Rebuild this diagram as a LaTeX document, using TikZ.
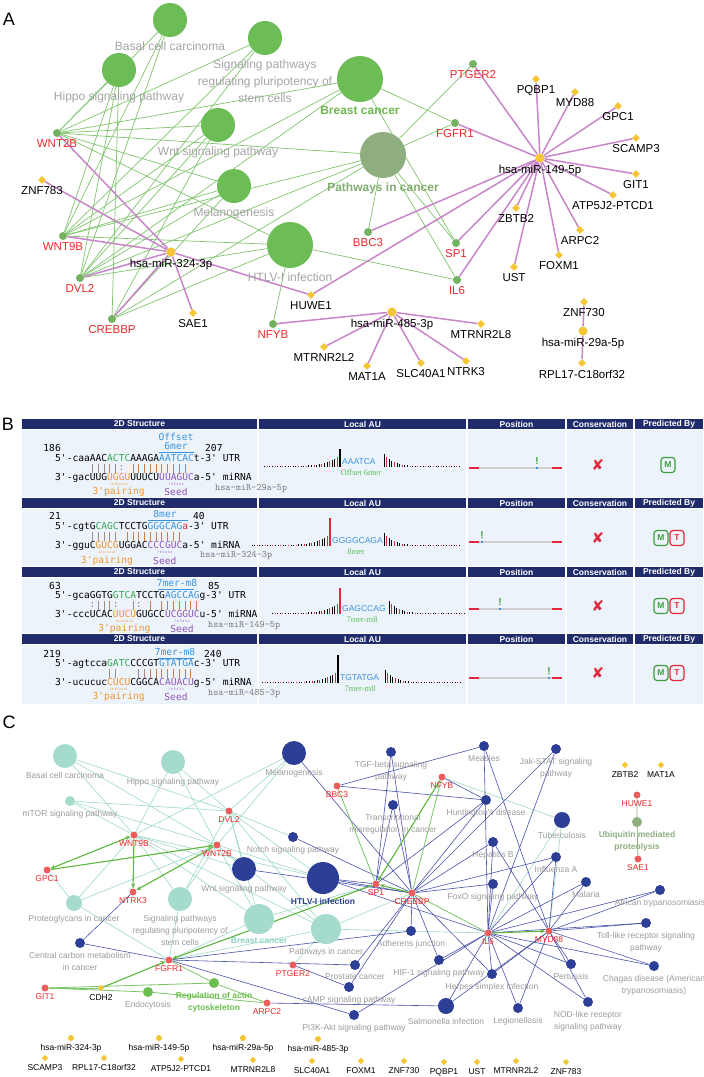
\documentclass[tikz,border=0pt]{standalone}
\usepackage{fontspec}
\setmainfont{Liberation Sans}
\newfontfamily\seqfont{DejaVu Sans Mono}
\newfontfamily\serfont{Liberation Serif}
\newfontfamily\dvsfont{DejaVu Sans}
\usetikzlibrary{shapes.geometric,arrows.meta,backgrounds}

\definecolor{pwgreen}{HTML}{6CBD55}
\definecolor{pwgrey}{HTML}{8FAE80}
\definecolor{pctext}{HTML}{82AD70}
\definecolor{genegreen}{HTML}{74B262}
\definecolor{edgegreen}{HTML}{80C56E}
\definecolor{boldgreen}{HTML}{6DB94F}
\definecolor{mirpurple}{HTML}{C985C9}
\definecolor{miryellow}{HTML}{F4C535}
\definecolor{genered}{HTML}{EE2A2A}
\definecolor{lblgrey}{HTML}{A5A5A5}
\definecolor{hdrblue}{HTML}{1F2B6A}
\definecolor{cellblue}{HTML}{EDF3FB}
\definecolor{seqgreen}{HTML}{33A852}
\definecolor{seqblue}{HTML}{3C93DD}
\definecolor{seqorange}{HTML}{F0952C}
\definecolor{seqpurple}{HTML}{8F55B8}
\definecolor{bargrey}{HTML}{9C8C84}
\definecolor{barbrown}{HTML}{C87C48}
\definecolor{aured}{HTML}{E3283C}
\definecolor{okgreen}{HTML}{3C9F3C}
\definecolor{sitegreen}{HTML}{5DC05D}
\definecolor{namegrey}{HTML}{7A7A7A}
\definecolor{posgrey}{HTML}{CFCFCF}
\definecolor{tealC}{HTML}{A4DBCC}
\definecolor{tealE}{HTML}{9DD9C9}
\definecolor{tealtext}{HTML}{8FD3C3}
\definecolor{blueC}{HTML}{2C3E95}
\definecolor{blueE}{HTML}{4852AA}
\definecolor{geneCred}{HTML}{EC5E5E}
\definecolor{greenC}{HTML}{6CBE4E}
\definecolor{lgreen}{HTML}{7CC668}
\definecolor{arrowC}{HTML}{5DB63C}
\definecolor{lblgreyC}{HTML}{9C9C9C}

\newcommand\fntA{\fontsize{11.5}{13}\selectfont}
\newcommand\fntP{\fontsize{12}{17}\selectfont}
\newcommand\fntC{\fontsize{8.5}{12}\selectfont}
\newcommand\fntS{\seqfont\fontsize{9.6}{9}\selectfont}
\newcommand\apo{\textquotesingle}

\tikzset{
  panel/.style={font=\fontsize{18}{18}\selectfont, inner sep=0pt},
  geneA/.style={circle, fill=genegreen, inner sep=0pt, minimum size=8pt},
  mirA/.style={circle, fill=miryellow, inner sep=0pt, minimum size=9pt},
  tgtA/.style={diamond, fill=miryellow, inner sep=0pt, minimum size=8pt},
  pwlblA/.style={font=\fntP, text=lblgrey, align=center, inner sep=1pt, label distance=3pt},
  boldA/.style={font=\fntP\bfseries, text=boldgreen, inner sep=1pt, label distance=3pt},
  pcboldA/.style={boldA, text=pctext},
  redA/.style={font=\fntA, text=genered, inner sep=0.5pt, label distance=2pt},
  blkA/.style={font=\fntA, text=black, inner sep=0.5pt, label distance=2pt},
  gedgeA/.style={draw=edgegreen, line width=0.7pt},
  pedgeA/.style={draw=mirpurple, line width=1.5pt},
  hdr/.style={text=white, font=\bfseries\fontsize{8.5}{9}\selectfont, inner sep=0pt},
  seq/.style={font=\fntS, inner sep=0pt},
  site/.style={font=\fntS, text=seqblue, align=center, inner sep=0pt},
  tinynum/.style={font=\fontsize{3.2}{3.5}\selectfont, inner sep=0pt},
  mirname/.style={font=\ttfamily\fontsize{9.8}{10}\selectfont, text=namegrey, inner sep=0pt, anchor=west},
  barG/.style={draw=bargrey, line width=1pt},
  barO/.style={draw=barbrown, line width=1pt},
  auseq/.style={font=\fontsize{8.5}{9}\selectfont, text=seqblue, inner sep=0pt, anchor=west},
  ausite/.style={font=\serfont\fontsize{8.5}{9}\selectfont, text=sitegreen, inner sep=0pt},
  posline/.style={draw=posgrey, line width=2.2pt},
  posend/.style={draw=aured, line width=2.2pt},
  excl/.style={font=\bfseries\fontsize{10}{10}\selectfont, text=okgreen, inner sep=0pt},
  cross/.style={font=\dvsfont\fontsize{15}{15}\selectfont, text=aured, inner sep=0pt},
  mbox/.style={draw=okgreen, text=okgreen, rounded corners=3pt, line width=1.2pt,
    minimum width=14pt, minimum height=15pt, inner sep=0pt, font=\bfseries\fontsize{8.5}{9}\selectfont},
  tbox/.style={mbox, draw=aured, text=aured},
  geneC/.style={circle, fill=geneCred, inner sep=0pt, minimum size=7pt},
  mirC/.style={circle, fill=miryellow, inner sep=0pt, minimum size=6pt},
  tgtC/.style={diamond, fill=miryellow, inner sep=0pt, minimum size=6.5pt},
  lblC/.style={font=\fntC, text=lblgreyC, align=center, inner sep=1pt, label distance=2.5pt},
  redC/.style={font=\fntC, text=genered, inner sep=0.5pt, label distance=1.5pt},
  blkC/.style={font=\fntC, text=black, inner sep=0.5pt, label distance=2pt},
  tealbold/.style={lblC, font=\fntC\bfseries, text=tealtext},
  bluebold/.style={lblC, font=\fntC\bfseries, text=blueC},
  greenbold/.style={lblC, font=\fntC\bfseries, text=greenC},
  greybold/.style={lblC, font=\fntC\bfseries, text=pwgrey},
  tedge/.style={draw=tealE, line width=0.6pt},
  bedge/.style={draw=blueE, line width=0.6pt},
  gline/.style={draw=lgreen, line width=0.8pt},
  garrow/.style={draw=arrowC, line width=1.1pt, -{Stealth[length=5pt,width=4pt]}},
  garrow2/.style={draw=arrowC, line width=1.1pt, {Stealth[length=5pt,width=4pt]}-{Stealth[length=5pt,width=4pt]}},
}

\begin{document}
\begin{tikzpicture}[x=1pt,y=-1pt]
\useasboundingbox (0,0) rectangle (704,1077);

% ---------------- A
\node[panel] (labA) at (9,19) {A};
\foreach \n/\x/\y/\d/\f/\s/\lab in {
  basA/170/20/34/pwgreen/pwlblA/Basal cell carcinoma,
  hipA/119/70/34/pwgreen/pwlblA/Hippo signaling pathway,
  spA/265/38/34/pwgreen/pwlblA/{Signaling pathways\\regulating pluripotency of\\stem cells},
  brA/360/79/46/pwgreen/boldA/Breast cancer,
  pcA/383/155/46/pwgrey/pcboldA/Pathways in cancer,
  wntA/218/125/34/pwgreen/pwlblA/Wnt signaling pathway,
  melA/234/186/34/pwgreen/pwlblA/Melanogenesis,
  htlA/290/245/46/pwgreen/pwlblA/HTLV-I infection}
  \node[circle, fill=\f, inner sep=0pt, minimum size=\d pt, label={[\s]below:\lab}] (\n) at (\x,\y) {};
\foreach \n/\x/\y/\lab in {w2A/57/133/WNT2B, w9A/63/236/WNT9B, dvlA/80/278/DVL2,
  crbA/112/319/CREBBP, nfyA/273/324/NFYB, bbcA/368/232/BBC3, sp1A/456/243/SP1,
  il6A/457/280/IL6, fgfA/455/123/FGFR1, ptgA/473/64/PTGER2}
  \node[geneA, label={[redA]below:\lab}] (\n) at (\x,\y) {};
\foreach \n/\x/\y/\lab in {m324/171/252/hsa-miR-324-3p, m149/540/158/hsa-miR-149-5p,
  m485/392/312/hsa-miR-485-3p, m29/583/331/hsa-miR-29a-5p}
  \node[mirA, label={[blkA]below:\lab}] (\n) at (\x,\y) {};
\foreach \n/\x/\y/\lab in {znfA/42/180/ZNF783, saeA/193/313/SAE1, huwA/311/295/HUWE1,
  mtr2A/324/347/MTRNR2L2, matA/367/366/MAT1A, slcA/421/363/SLC40A1, ntrA/466/361/NTRK3,
  mtr8A/481/324/MTRNR2L8, z730A/584/302/ZNF730, rplA/582/363/RPL17-C18orf32,
  ustA/514/267/UST, foxA/559/255/FOXM1, arpA/580/230/ARPC2, zbtA/516/208/ZBTB2,
  atpA/613/195/ATP5J2-PTCD1, gitA/636/174/GIT1, scaA/636/138/SCAMP3, gpcA/618/106/GPC1,
  mydA/575/92/MYD88, pqbA/536/79/PQBP1}
  \node[tgtA, label={[blkA]below:\lab}] (\n) at (\x,\y) {};

% ---------------- B
\node[panel] (labB) at (8,424) {B};
\foreach \ytop/\ybot in {419/497,498/566,567/633,634/704}
  \foreach \xa/\xz/\lab in {22/257/2D Structure,259/466/Local AU,468/565/Position,
    567/633/Conservation,635/703/Predicted By}{
    \fill[hdrblue] (\xa,\ytop) rectangle (\xz,\ytop+10);
    \fill[cellblue] (\xa,\ytop+10.5) rectangle (\xz,\ybot);
    \node[hdr] (hd-\ytop-\xa) at ({(\xa+\xz)/2},\ytop+5) {\lab};
  }

\node[seq, anchor=east] (n1a) at (61,448) {186};
\node[seq, anchor=west] (n1b) at (205,448) {207};
\node[site] (st1) at (176,441.5) {Offset\\6mer};
\draw[seqblue, line width=.5pt] (159,452) -- (194,452);
\node[seq, anchor=base west] (utr1) at (55,461.5) {5\apo-caaAAC\textcolor{seqgreen}{ACTC}AAAGA\textcolor{seqblue}{AATCAC}t-3\apo\ UTR};
\node[seq, anchor=base west] (mir1) at (55,480.5) {3\apo-gacUUG\textcolor{seqorange}{UGGU}UUUCU\textcolor{seqpurple}{UUAGUC}a-5\apo\ miRNA};
\foreach \i in {6,...,10} \draw[barG] ({55+5.78*(\i+.5)},464) -- ++(0,8.5);
\foreach \i in {13,...,22} \draw[barO] ({55+5.78*(\i+.5)},464) -- ++(0,8.5);
\node[seq, text=bargrey] (cl1) at ({55+5.78*11.5},468) {:};
\node[tinynum, text=seqorange] (tn1a) at (118.6,484) {16 15 14 13};
\node[tinynum, text=seqpurple] (tn1b) at (176,484) {7 6 5 4 3 2};
\node[seq, text=seqorange] (pl1) at (118.6,492) {3\apo pairing};
\node[seq, text=seqpurple] (sd1) at (176,492) {Seed};
\node[mirname] (nm1) at (215,489) {hsa-miR-29a-5p};

\node[seq, anchor=east] (n2a) at (61,516) {21};
\node[seq, anchor=west] (n2b) at (193,516) {40};
\node[site] (st2) at (165,514) {8mer};
\draw[seqblue, line width=.5pt] (147.5,520) -- (188,520);
\node[seq, anchor=base west] (utr2) at (55,529.5) {5\apo-cgtG\textcolor{seqgreen}{CAGC}TCCTG\textcolor{seqblue}{GGGCAG}\textcolor{aured}{a}-3\apo\ UTR};
\node[seq, anchor=base west] (mir2) at (55,548.5) {3\apo-gguC\textcolor{seqorange}{GUCG}UGGAC\textcolor{seqpurple}{CCCGUC}a-5\apo\ miRNA};
\foreach \i in {6,...,10} \draw[barG] ({55+5.78*(\i+.5)},532) -- ++(0,8.5);
\foreach \i in {12,...,21} \draw[barO] ({55+5.78*(\i+.5)},532) -- ++(0,8.5);
\node[tinynum, text=seqorange] (tn2a) at (107,552) {16 15 14 13};
\node[tinynum, text=seqpurple] (tn2b) at (164.8,552) {7 6 5 4 3 2};
\node[seq, text=seqorange] (pl2) at (107,561) {3\apo pairing};
\node[seq, text=seqpurple] (sd2) at (164.8,561) {Seed};
\node[mirname] (nm2) at (200,556) {hsa-miR-324-3p};

\node[seq, anchor=east] (n3a) at (61,586) {63};
\node[seq, anchor=west] (n3b) at (208,586) {85};
\node[site] (st3) at (177,583) {7mer-m8};
\draw[seqblue, line width=.5pt] (158,589) -- (194,589);
\node[seq, anchor=base west] (utr3) at (55,598.5) {5\apo-gcaGGTG\textcolor{seqgreen}{GTCA}TCCTG\textcolor{seqblue}{AGCCAG}g-3\apo\ UTR};
\node[seq, anchor=base west] (mir3) at (55,617.5) {3\apo-cccUCAC\textcolor{seqorange}{UUCU}GUGCC\textcolor{seqpurple}{UCGGUC}u-5\apo\ miRNA};
\foreach \i in {7,8,9,13} \draw[barG] ({55+5.78*(\i+.5)},601) -- ++(0,8.5);
\foreach \i in {16,18,19,...,24} \draw[barO] ({55+5.78*(\i+.5)},601) -- ++(0,8.5);
\foreach \i in {6,10,14} \node[seq, text=bargrey] (cl3-\i) at ({55+5.78*(\i+.5)},605) {:};
\node[tinynum, text=seqorange] (tn3a) at (124.4,621) {16 15 14 13};
\node[tinynum, text=seqpurple] (tn3b) at (182,621) {7 6 5 4 3 2};
\node[seq, text=seqorange] (pl3) at (124.4,629) {3\apo pairing};
\node[seq, text=seqpurple] (sd3) at (182,629) {Seed};
\node[mirname] (nm3) at (208,626) {hsa-miR-149-5p};

\node[seq, anchor=east] (n4a) at (61,654) {219};
\node[seq, anchor=west] (n4b) at (204,654) {240};
\node[site] (st4) at (175,652) {7mer-m8};
\draw[seqblue, line width=.5pt] (158,658) -- (194,658);
\node[seq, anchor=base west] (utr4) at (55,666.5) {5\apo-agtcca\textcolor{seqgreen}{GATC}CCCGT\textcolor{seqblue}{GTATGA}c-3\apo\ UTR};
\node[seq, anchor=base west] (mir4) at (55,685.5) {3\apo-ucucuc\textcolor{seqorange}{CUCU}CGGCA\textcolor{seqpurple}{CAUACU}g-5\apo\ miRNA};
\foreach \i in {9,10,14,15} \draw[barG] ({55+5.78*(\i+.5)},669) -- ++(0,8.5);
\foreach \i in {16,...,23} \draw[barO] ({55+5.78*(\i+.5)},669) -- ++(0,8.5);
\node[tinynum, text=seqorange] (tn4a) at (118.6,689) {16 15 14 13};
\node[tinynum, text=seqpurple] (tn4b) at (176,689) {7 6 5 4 3 2};
\node[seq, text=seqorange] (pl4) at (118.6,697) {3\apo pairing};
\node[seq, text=seqpurple] (sd4) at (176,697) {Seed};
\node[mirname] (nm4) at (208,694) {hsa-miR-485-3p};

\foreach \base/\xp/\hs/\sc/\xl/\xr/\xe/\sq/\st/\sx in {
  467/340/18/black/263/384/460/AAATCA/Offset 6mer/361,
  546/330/28/aured/251/384/460/GGGGCAGA/8mer/356,
  614/340/26/aured/270/389/465/GAGCCAG/7mer-m8/362,
  683/338/28/black/262/385/462/TGTATGA/7mer-m8/360}{
  \draw[\sc, line width=1.2pt] (\xp,\base) -- ++(0,-\hs);
  \pgfmathtruncatemacro\nl{(\xp-\xl)/2.6}
  \foreach \i in {1,...,\nl}{
    \pgfmathsetmacro\hh{0.8+12*exp(-\i/4.5)}
    \pgfmathtruncatemacro\mm{mod(\i,3)}
    \ifnum\mm=1 \def\cc{aured}\else\def\cc{black}\fi
    \draw[\cc, line width=1pt] (\xp-2.6*\i,\base) -- ++(0,-\hh);
  }
  \pgfmathtruncatemacro\nr{(\xe-\xr)/2.6}
  \foreach \i in {0,...,\nr}{
    \pgfmathsetmacro\hh{0.8+12*exp(-\i/3.5)}
    \pgfmathtruncatemacro\mm{mod(\i,3)}
    \ifnum\mm=1 \def\cc{aured}\else\def\cc{black}\fi
    \draw[\cc, line width=1pt] (\xr+2.6*\i,\base) -- ++(0,-\hh);
  }
  \node[auseq] (au-\base) at (\xp+2,\base-5) {\sq};
  \node[ausite] (as-\base) at (\sx,\base+6) {\st};
}

\foreach \py/\mx in {468/537, 542/482, 609/500, 678/549}{
  \draw[posline] (471,\py) -- (560,\py);
  \draw[posend] (469,\py) -- (479,\py);
  \draw[posend] (552,\py) -- (562,\py);
  \fill[seqblue] (\mx-1.2,\py-1.2) rectangle (\mx+1.2,\py+1.2);
  \node[excl] (ex-\py) at (\mx,\py-6.5) {!};
}
\foreach \cy in {465,538,606,673} \node[cross] (cs-\cy) at (598,\cy) {✘};
\node[mbox] (pm-465) at (668,465) {M};
\foreach \cy in {538,606,673}{
  \node[mbox] (pm-\cy) at (661,\cy) {M};
  \node[tbox] (pt-\cy) at (677,\cy) {T};
}

% ---------------- C
\node[panel] (labC) at (9,722) {C};
\foreach \n/\x/\y/\d/\s/\lab in {
  basC/65/756/24/lblC/Basal cell carcinoma,
  hipC/173/762/24/lblC/Hippo signaling pathway,
  mtorC/70/801/10/lblC/mTOR signaling pathway,
  protC/74/903/16/lblC/Proteoglycans in cancer,
  spluC/180/899/24/lblC/{Signaling pathways\\regulating pluripotency of\\stem cells},
  brC/259/919/30/tealbold/Breast cancer,
  pacC/326/929/30/lblC/Pathways in cancer}
  \node[circle, fill=tealC, inner sep=0pt, minimum size=\d pt, label={[\s]below:\lab}] (\n) at (\x,\y) {};
\foreach \n/\x/\y/\d/\s/\lab in {
  melC/294/753/24/lblC/Melanogenesis,
  notC/293/837/10/lblC/Notch signaling pathway,
  wntC/244/869/24/lblC/Wnt signaling pathway,
  htlC/323/878/32/bluebold/HTLV-I infection,
  ccmC/80/943/10/lblC/{Central carbon metabolism\\in cancer},
  tgfC/391/752/10/lblC/{TGF-beta signaling\\pathway},
  meaC/484/746/10/lblC/Measles,
  jakC/556/749/10/lblC/{Jak-STAT signaling\\pathway},
  trmC/393/805/10/lblC/{Transcriptional\\misregulation in cancer},
  hunC/486/800/10/lblC/Huntington's disease,
  tubC/562/820/16/lblC/Tuberculosis,
  hbvC/493/842/10/lblC/Hepatitis B,
  infC/556/857/10/lblC/Influenza A,
  foxC/493/884/10/lblC/FoxO signaling pathway,
  malC/586/882/10/lblC/Malaria,
  afrC/660/890/10/lblC/African trypanosomiasis,
  tlrC/646/923/10/lblC/{Toll-like receptor signaling\\pathway},
  chaC/654/966/10/lblC/{Chagas disease (American\\trypanosomiasis)},
  adhC/411/931/10/lblC/Adherens junction,
  proC/355/965/10/lblC/Prostate cancer,
  campC/349/987/10/lblC/cAMP signaling pathway,
  pi3C/354/1015/10/lblC/PI3K-Akt signaling pathway,
  hifC/439/960/10/lblC/HIF-1 signaling pathway,
  hsvC/492/974/10/lblC/Herpes simplex infection,
  perC/571/964/10/lblC/Pertussis,
  salC/446/1006/16/lblC/Salmonella infection,
  legC/518/1008/10/lblC/Legionellosis,
  nodC/588/1002/10/lblC/{NOD-like receptor\\signaling pathway}}
  \node[circle, fill=blueC, inner sep=0pt, minimum size=\d pt, label={[\s]below:\lab}] (\n) at (\x,\y) {};
\node[circle, fill=greenC, inner sep=0pt, minimum size=10pt, label={[lblC]below:Endocytosis}] (endC) at (148,992) {};
\node[circle, fill=greenC, inner sep=0pt, minimum size=10pt, label={[greenbold]below:{Regulation of actin\\cytoskeleton}}] (actC) at (214,983) {};
\node[circle, fill=pwgrey, inner sep=0pt, minimum size=10pt, label={[greybold]below:{Ubiquitin mediated\\proteolysis}}] (ubqC) at (637,822) {};
\foreach \n/\x/\y/\lab in {dvlC/229/811/DVL2, w9C/134/835/WNT9B, w2C/217/845/WNT2B,
  bbcC/337/786/BBC3, gpcC/47/870/GPC1, ntrC/133/892/NTRK3, fgfC/169/960/FGFR1,
  ptgC/293/965/PTGER2, gitC/45/988/GIT1, arpC/267/1003/ARPC2, nfyC/442/777/NFYB,
  sp1C/376/884/SP1, crbC/412/893/CREBBP, il6C/488/933/IL6, mydC/549/931/MYD88,
  huwC/637/795/HUWE1, saeC/638/859/SAE1}
  \node[geneC, label={[redC]below:\lab}] (\n) at (\x,\y) {};
\foreach \n/\x/\y/\lab in {bm324/71/1038/hsa-miR-324-3p, bm149/159/1038/hsa-miR-149-5p,
  bm29/243/1038/hsa-miR-29a-5p, bm485/318/1039/hsa-miR-485-3p}
  \node[mirC, label={[blkC]below:\lab}] (\n) at (\x,\y) {};
\foreach \n/\x/\y/\lab in {cdhC/101/988/CDH2, zbtC/625/765/ZBTB2, matC/661/765/MAT1A,
  bscaC/45/1058/SCAMP3, brplC/104/1058/RPL17-C18orf32, batpC/181/1059/ATP5J2-PTCD1,
  bmt8C/253/1060/MTRNR2L8, bslcC/312/1061/SLC40A1, bfoxC/361/1061/FOXM1,
  bz730C/404/1061/ZNF730, bpqbC/444/1062/PQBP1, bustC/477/1062/UST,
  bmt2C/516/1061/MTRNR2L2, bz783C/566/1062/ZNF783}
  \node[tgtC, label={[blkC]below:\lab}] (\n) at (\x,\y) {};

\begin{pgfonlayer}{background}
\fill[white] (0,0) rectangle (704,1077);
% A edges
\foreach \g in {w2A,w9A,dvlA}
  \foreach \p in {basA,hipA,spA,brA,wntA,melA,pcA,htlA} \draw[gedgeA] (\g) -- (\p);
\foreach \g/\p in {crbA/hipA, crbA/wntA, crbA/melA, crbA/pcA, crbA/htlA, fgfA/brA, fgfA/pcA,
  ptgA/pcA, bbcA/pcA, sp1A/pcA, sp1A/brA, il6A/pcA, il6A/htlA, nfyA/htlA}
  \draw[gedgeA] (\g) -- (\p);
\foreach \t in {w2A,znfA,w9A,dvlA,crbA,saeA,huwA} \draw[pedgeA] (m324) -- (\t);
\foreach \t in {ptgA,pqbA,mydA,gpcA,scaA,gitA,atpA,arpA,foxA,ustA,zbtA,il6A,sp1A,bbcA,fgfA,huwA}
  \draw[pedgeA] (m149) -- (\t);
\foreach \t in {nfyA,mtr2A,matA,slcA,ntrA,mtr8A} \draw[pedgeA] (m485) -- (\t);
\foreach \t in {z730A,rplA} \draw[pedgeA] (m29) -- (\t);
% C edges
\foreach \g in {w9C,w2C}
  \foreach \p in {basC,hipC,mtorC,melC,wntC,spluC,brC,pacC,protC,htlC} \draw[tedge] (\g) -- (\p);
\foreach \p in {basC,hipC,mtorC,melC,notC,wntC,spluC,brC,pacC,htlC} \draw[tedge] (dvlC) -- (\p);
\foreach \g/\p in {gpcC/protC, fgfC/spluC, fgfC/brC, fgfC/pacC, fgfC/protC, ptgC/pacC,
  il6C/pacC, sp1C/brC, crbC/pacC, nfyC/tubC, il6C/tubC, mydC/tubC}
  \draw[tedge] (\g) -- (\p);
\foreach \p in {melC,notC,wntC,htlC,tgfC,trmC,hunC,hbvC,infC,foxC,adhC,proC,campC,hifC,hsvC,jakC}
  \draw[bedge] (crbC) -- (\p);
\foreach \p in {htlC,jakC,meaC,hbvC,infC,foxC,malC,afrC,tlrC,chaC,perC,legC,salC,hsvC,hifC,pi3C,nodC}
  \draw[bedge] (il6C) -- (\p);
\foreach \p in {tlrC,chaC,afrC,malC,perC,legC,salC,hsvC,meaC,infC,hbvC,nodC}
  \draw[bedge] (mydC) -- (\p);
\foreach \g/\p in {sp1C/tgfC, sp1C/trmC, sp1C/hunC, sp1C/htlC, bbcC/meaC, bbcC/hunC, nfyC/hunC,
  fgfC/ccmC, fgfC/proC, fgfC/pi3C, fgfC/adhC, ntrC/ccmC, ptgC/campC, arpC/salC}
  \draw[bedge] (\g) -- (\p);
\foreach \g/\p in {gitC/cdhC, gitC/actC, gitC/endC, endC/arpC, actC/arpC, fgfC/actC,
  nfyC/crbC, bbcC/sp1C, il6C/crbC}
  \draw[gline] (\g) -- (\p);
\draw[gline, draw=pwgrey] (huwC) -- (ubqC) -- (saeC);
\draw[garrow2] (w9C) -- (gpcC);
\foreach \g/\p in {gpcC/w2C, w9C/ntrC, w2C/ntrC, nfyC/sp1C, crbC/sp1C, il6C/mydC, sp1C/fgfC, cdhC/fgfC}
  \draw[garrow] (\g) -- (\p);
\end{pgfonlayer}
\end{tikzpicture}
\end{document}
